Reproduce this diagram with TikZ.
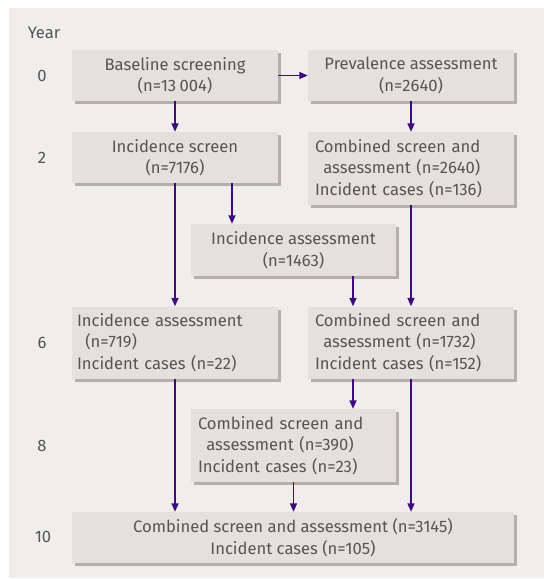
\documentclass[tikz,border=0pt]{standalone}
\usepackage{fontspec}
\setmainfont{Fira Sans}
\usetikzlibrary{arrows.meta,shadows,calc}
\definecolor{panelbg}{HTML}{F0EEED}
\definecolor{boxbg}{HTML}{E4E0DD}
\definecolor{boxshadow}{HTML}{B6AEAA}
\definecolor{flowpurple}{HTML}{3D0B7C}
\definecolor{txtgray}{HTML}{555555}
\begin{document}
\begin{tikzpicture}[
  x=1pt, y=-1pt,
  every node/.style={font=\fontsize{16.6}{21.5}\selectfont, text=txtgray},
  box/.style={rectangle, fill=boxbg, inner sep=0pt, minimum width=206pt,
    drop shadow={shadow xshift=3pt, shadow yshift=-3pt, fill=boxshadow, opacity=1}},
  lbox/.style={box, align=left, text width=192pt},
  cbox/.style={box, align=center},
  year/.style={anchor=center},
  arr/.style={draw=flowpurple, line width=1.5pt, -{Triangle[length=8.5pt,width=7pt]}}
]
\useasboundingbox (0,0) rectangle (544,579);
\fill[panelbg] (9,8) rectangle (544,578);

% year column
\node[year] (yr) at (44,33) {Year};
\node[year] (y0) at (42,76) {0};
\node[year] (y2) at (42,158) {2};
\node[year] (y6) at (42,343) {6};
\node[year] (y8) at (42,446) {8};
\node[year] (y10) at (43,537) {10};

% boxes
\node[cbox, minimum height=51pt] (base) at (175,75.5) {Baseline screening\\(n=13\hspace{0.2em}004)};
\node[cbox, minimum height=51pt] (prev) at (411,75.5) {Prevalence assessment\\(n=2640)};
\node[cbox, minimum height=51pt] (iscreen) at (175,157.5) {Incidence screen\\(n=7176)};
\node[lbox, minimum height=73pt] (comb2) at (411,168.5) {Combined screen and\\\hspace*{0.5em}assessment (n=2640)\\Incident cases (n=136)};
\node[cbox, minimum height=52pt, minimum width=205pt] (iassess) at (293.5,250) {Incidence assessment\\(n=1463)};
\node[lbox, minimum height=72pt, text width=196pt] (iassess6) at (175,342.5) {Incidence assessment\\\hspace*{0.5em}(n=719)\\Incident cases (n=22)};
\node[lbox, minimum height=72pt] (comb6) at (411,342.5) {Combined screen and\\\hspace*{0.5em}assessment (n=1732)\\Incident cases (n=152)};
\node[lbox, minimum height=73pt, minimum width=205pt, text width=191pt] (comb8) at (293.5,445.5) {Combined screen and\\\hspace*{0.5em}assessment (n=390)\\Incident cases (n=23)};
\node[cbox, minimum height=51pt, minimum width=442pt] (final) at (293,537.5) {Combined screen and assessment (n=3145)\\Incident cases (n=105)};

% connectors
\draw[arr] (base.east) -- (prev.west);
\draw[arr] (base.south) -- (iscreen.north);
\draw[arr] (prev.south) -- (comb2.north);
\draw[arr] ($(iscreen.south)+(57,0)$) coordinate (s1) -- (s1 |- iassess.north);
\draw[arr] (iscreen.south) -- (iassess6.north);
\draw[arr] (comb2.south) -- (comb6.north);
\draw[arr] ($(iassess.south)+(59.5,0)$) coordinate (s2) -- (s2 |- comb6.north);
\draw[arr] ($(comb6.south)+(-58,0)$) coordinate (s3) -- (s3 |- comb8.north);
\draw[arr] (iassess6.south) -- (iassess6.south |- final.north);
\draw[arr] (comb8.south) -- (comb8.south |- final.north);
\draw[arr] (comb6.south) -- (comb6.south |- final.north);
\end{tikzpicture}
\end{document}
